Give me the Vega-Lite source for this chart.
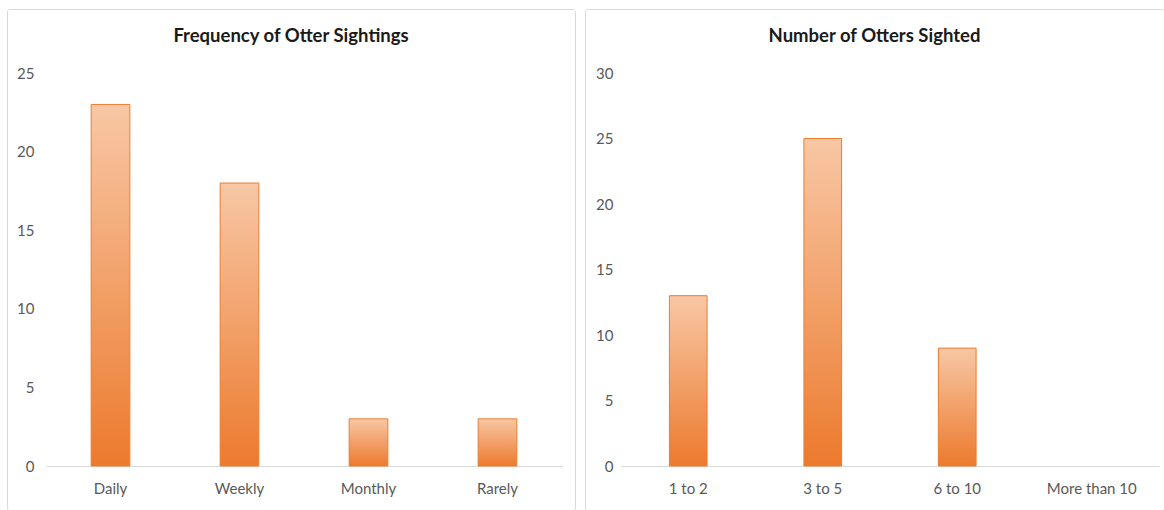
{
  "$schema": "https://vega.github.io/schema/vega-lite/v6.json",
  "padding": {"left": 6, "top": 8, "right": 0, "bottom": 0},
  "autosize": {"type": "pad"},
  "spacing": 8,
  "datasets": {
    "freq": [
      {"frequency": "Daily", "count": 23},
      {"frequency": "Weekly", "count": 18},
      {"frequency": "Monthly", "count": 3},
      {"frequency": "Rarely", "count": 3}
    ],
    "number": [
      {"otters": "1 to 2", "count": 13},
      {"otters": "3 to 5", "count": 25},
      {"otters": "6 to 10", "count": 9},
      {"otters": "More than 10", "count": 0}
    ]
  },
  "config": {
    "view": {"stroke": "#d9d9d9", "strokeWidth": 1, "cornerRadius": 2},
    "font": "Lato",
    "axis": {"labelFont": "Lato", "labelFontSize": 15, "labelColor": "#595959", "ticks": false, "tickSize": 0, "grid": false},
    "title": {"font": "Lato", "fontSize": 18.5, "fontWeight": "bold", "color": "#1a1a1a", "anchor": "middle"}
  },
  "hconcat": [
    {
      "title": {"text": "Frequency of Otter Sightings", "offset": -36},
      "width": 568,
      "height": 501,
      "data": {"name": "freq"},
      "mark": {
        "type": "bar",
        "stroke": "#ed7d31",
        "strokeWidth": 1,
        "color": {"gradient": "linear", "x1": 0, "y1": 1, "x2": 0, "y2": 0, "stops": [{"offset": 0, "color": "#ec7a2d"}, {"offset": 1, "color": "#f8c7a5"}]}
      },
      "encoding": {
        "x": {"field": "frequency", "type": "nominal", "sort": null, "title": null,
          "scale": {"range": [39, 555], "paddingInner": 0.7, "paddingOuter": 0.35},
          "axis": {"labelAngle": 0, "domainColor": "#d9d9d9", "domainWidth": 1, "offset": -44, "labelPadding": 15}},
        "y": {"field": "count", "type": "quantitative", "title": null,
          "scale": {"domain": [0, 25], "range": [457, 64], "nice": false},
          "axis": {"values": [0, 5, 10, 15, 20, 25], "domain": false, "offset": -27, "labelPadding": 0}}
      }
    },
    {
      "title": {"text": "Number of Otters Sighted", "offset": -36},
      "width": 579,
      "height": 501,
      "data": {"name": "number"},
      "mark": {
        "type": "bar",
        "stroke": "#ed7d31",
        "strokeWidth": 1,
        "color": {"gradient": "linear", "x1": 0, "y1": 1, "x2": 0, "y2": 0, "stops": [{"offset": 0, "color": "#ec7a2d"}, {"offset": 1, "color": "#f8c7a5"}]}
      },
      "encoding": {
        "x": {"field": "otters", "type": "nominal", "sort": null, "title": null,
          "scale": {"range": [36, 574], "paddingInner": 0.72, "paddingOuter": 0.36},
          "axis": {"labelAngle": 0, "domainColor": "#d9d9d9", "domainWidth": 1, "offset": -44, "labelPadding": 15}},
        "y": {"field": "count", "type": "quantitative", "title": null,
          "scale": {"domain": [0, 30], "range": [457, 64], "nice": false},
          "axis": {"values": [0, 5, 10, 15, 20, 25, 30], "domain": false, "offset": -28, "labelPadding": 0}},
        "strokeOpacity": {"condition": {"test": "datum.count == 0", "value": 0}, "value": 1}
      }
    }
  ]
}
